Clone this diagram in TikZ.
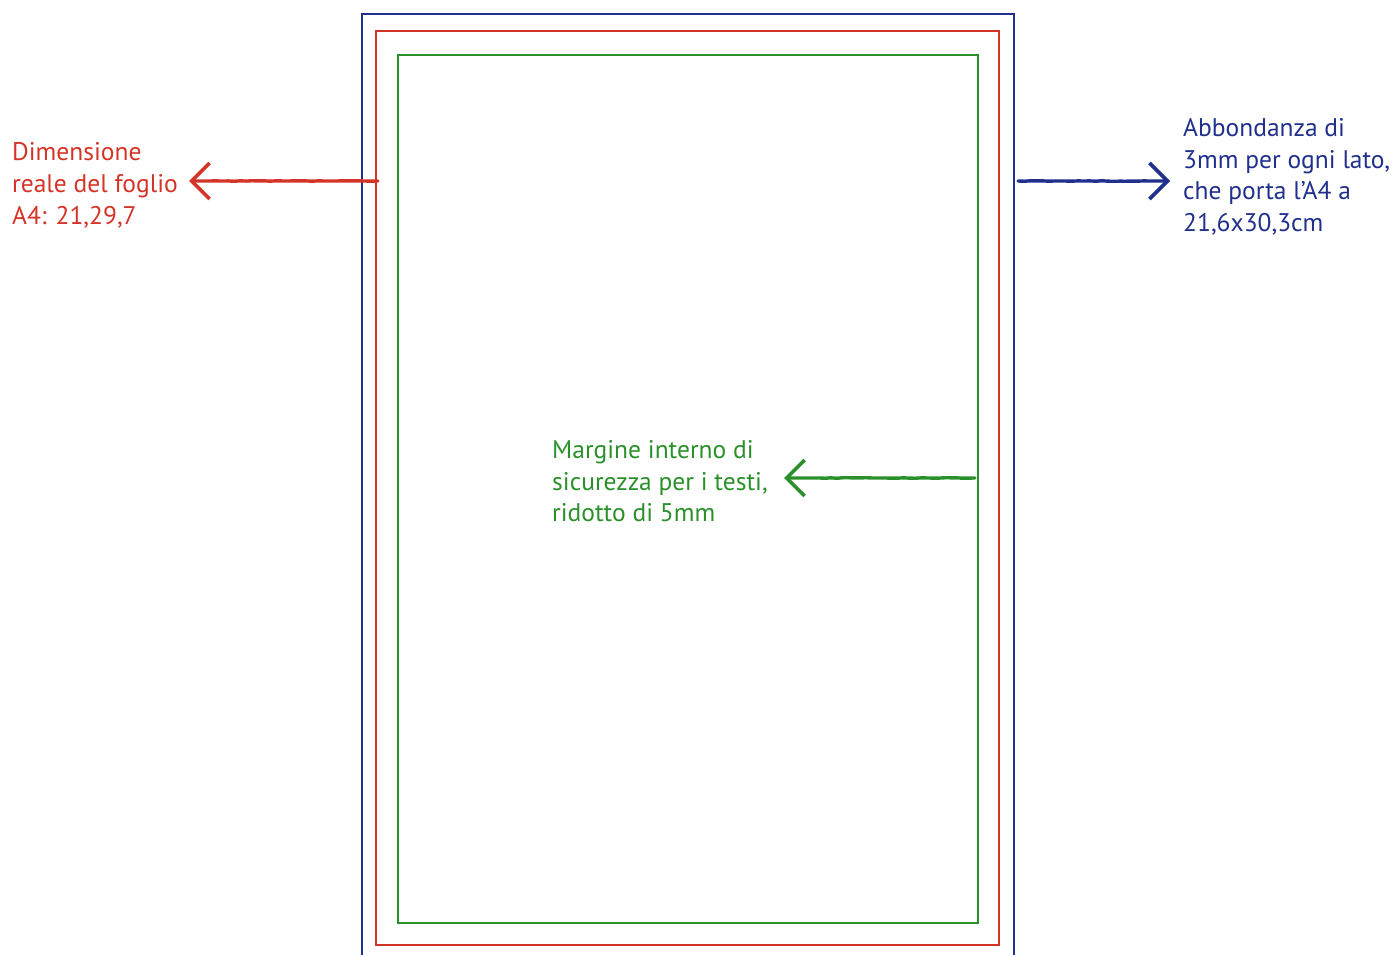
\documentclass[tikz,border=0pt]{standalone}
\usepackage{fontspec}
\setmainfont{PT Sans}
\usetikzlibrary{arrows.meta,decorations.pathmorphing}
\definecolor{bleedblue}{RGB}{32,48,140}
\definecolor{sheetred}{RGB}{212,52,40}
\definecolor{safegreen}{RGB}{42,145,42}
\tikzset{
  x=1pt,y=-1pt,
  frame/.style={line width=2.6pt},
  label/.style={inner sep=0pt,anchor=north west,align=left,font=\fontsize{25.5}{31.8}\selectfont},
  chalk/.style={line width=3.4pt,line cap=round,
    -{Straight Barb[length=18pt,width=36pt,line width=3.6pt]},
    decorate,decoration={random steps,segment length=6pt,amplitude=0.25pt,post length=20pt}}
}
\begin{document}
\begin{tikzpicture}
\useasboundingbox (0,0) rectangle (1397,955);
\clip (0,0) rectangle (1397,955);
% bleed frame (blue), open at the bottom
\draw[frame,bleedblue] (362,970) -- (362,14) -- (1014,14) -- (1014,970);
% sheet (red)
\draw[frame,sheetred] (376,31) rectangle (999,945);
% safe area (green)
\draw[frame,safegreen] (398,55) rectangle (978,923);

\node[label,text=sheetred] (redtxt) at (12,142.5) {Dimensione\\reale del foglio\\A4: 21,29,7};
\node[label,text=bleedblue] (bluetxt) at (1183,118) {Abbondanza di\\3mm per ogni lato,\\che porta l’A4 a\\21,6x30,3cm};
\node[label,text=safegreen] (greentxt) at (552,440) {Margine interno di\\sicurezza per i testi,\\ridotto di 5mm};

\coordinate (redstart) at (378,181);
\coordinate (redtip) at (189,181);
\coordinate (bluestart) at (1018,181);
\coordinate (bluetip) at (1170,181);
\coordinate (greenstart) at (975,478);
\coordinate (greentip) at (784,478);

\draw[chalk,sheetred] (redstart) -- (redtip);
\draw[chalk,bleedblue] (bluestart) -- (bluetip);
\draw[chalk,safegreen] (greenstart) -- (greentip);
\end{tikzpicture}
\end{document}
